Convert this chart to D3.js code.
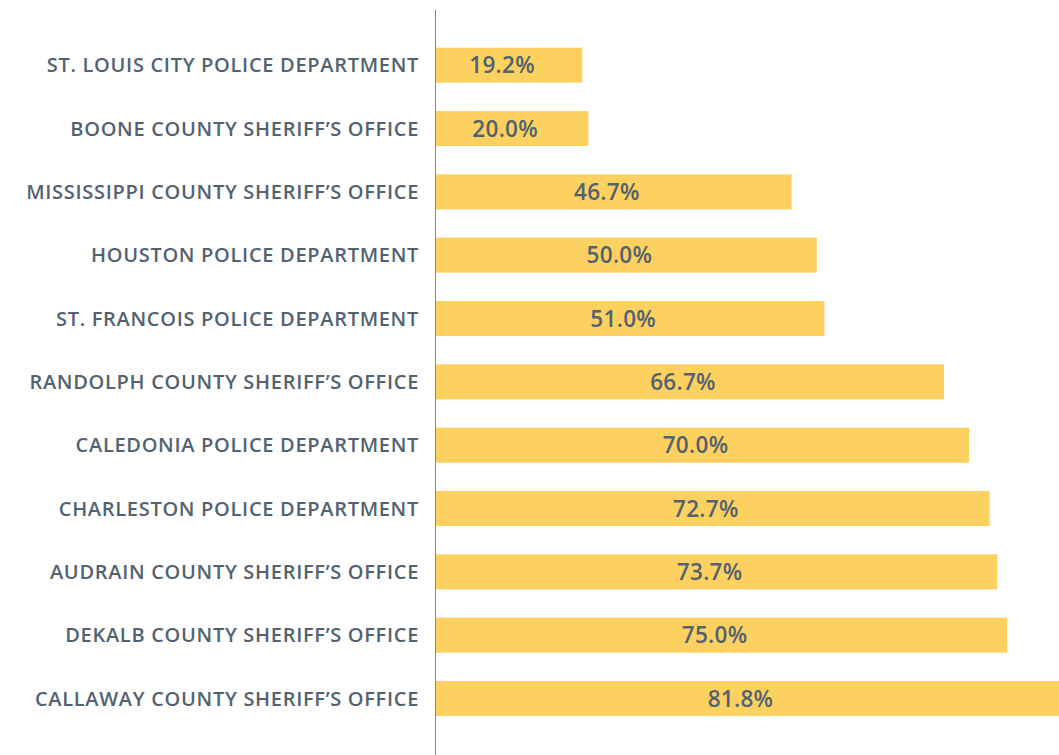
<html>
<head>
<script src="https://d3js.org/d3.v7.min.js"></script>
<style>
  body { margin: 0; background: #fff; }
  text { font-family: "Open Sans", sans-serif; }
</style>
</head>
<body>
<script>
var agencies = [
  "ST. LOUIS CITY POLICE DEPARTMENT",
  "BOONE COUNTY SHERIFF\u2019S OFFICE",
  "MISSISSIPPI COUNTY SHERIFF\u2019S OFFICE",
  "HOUSTON POLICE DEPARTMENT",
  "ST. FRANCOIS POLICE DEPARTMENT",
  "RANDOLPH COUNTY SHERIFF\u2019S OFFICE",
  "CALEDONIA POLICE DEPARTMENT",
  "CHARLESTON POLICE DEPARTMENT",
  "AUDRAIN COUNTY SHERIFF\u2019S OFFICE",
  "DEKALB COUNTY SHERIFF\u2019S OFFICE",
  "CALLAWAY COUNTY SHERIFF\u2019S OFFICE"
];
var rates = [19.2, 20.0, 46.7, 50.0, 51.0, 66.7, 70.0, 72.7, 73.7, 75.0, 81.8];

var width = 1059, height = 755;
var axisX = 435.5;
var textColor = "#536270";

var svg = d3.select("body").append("svg")
  .attr("width", width)
  .attr("height", height);

var x = d3.scaleLinear().domain([0, 81.8]).range([436, 1059]);
var y = d3.scaleBand().domain(agencies).range([35, 728.7]).paddingInner(0.447).paddingOuter(0.2);

svg.append("g").selectAll("rect")
  .data(rates)
  .enter().append("rect")
  .attr("x", x(0))
  .attr("y", function(d, i){ return y(agencies[i]); })
  .attr("width", function(d){ return x(d) - x(0); })
  .attr("height", y.bandwidth())
  .attr("fill", "#fdd15f");

svg.append("line")
  .attr("x1", axisX).attr("x2", axisX)
  .attr("y1", 10).attr("y2", height)
  .attr("stroke", "#7f8890")
  .attr("stroke-width", 1);

svg.append("g").selectAll("text")
  .data(agencies)
  .enter().append("text")
  .attr("x", 419)
  .attr("y", function(d){ return y(d) + y.bandwidth() / 2; })
  .attr("dy", "0.36em")
  .attr("text-anchor", "end")
  .attr("fill", textColor)
  .style("font-size", "20px")
  .style("letter-spacing", "0.7px")
  .style("font-weight", 600)
  .text(function(d){ return d; });

svg.append("g").selectAll("text")
  .data(rates)
  .enter().append("text")
  .attr("x", function(d){ return (x(0) + x(d)) / 2 - 7; })
  .attr("y", function(d, i){ return y(agencies[i]) + y.bandwidth() / 2; })
  .attr("dy", "0.36em")
  .attr("text-anchor", "middle")
  .attr("fill", textColor)
  .style("font-size", "22.5px")
  .style("letter-spacing", "0.3px")
  .style("font-weight", 600)
  .text(function(d){ return d.toFixed(1) + "%"; });
</script>
</body>
</html>
